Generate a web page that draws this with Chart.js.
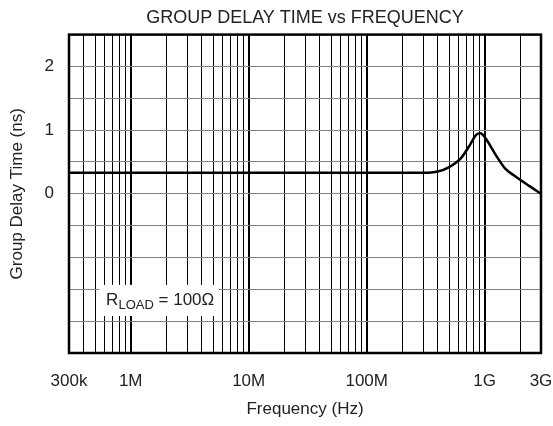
<!DOCTYPE html>
<html>
<head>
<meta charset="utf-8">
<script src="https://cdn.jsdelivr.net/npm/chart.js@4/dist/chart.umd.min.js"></script>
<style>
  html, body { margin: 0; padding: 0; background: #fff; }
  #wrap { width: 553px; height: 426px; }
</style>
</head>
<body>
<div id="wrap"><canvas id="delayChart"></canvas></div>
<script>
// --- Data ---
const freqHz = [3e5, 1e6, 1e7, 1e8, 3e8, 4e8, 5e8, 6.3e8, 7.4e8, 8.5e8, 9.2e8, 1e9, 1.25e9, 1.5e9, 1.8e9, 2.4e9, 3e9];
const delayNs = [0.33, 0.33, 0.33, 0.33, 0.33, 0.35, 0.42, 0.56, 0.75, 0.93, 0.95, 0.89, 0.6, 0.39, 0.28, 0.12, 0.0];

// x grid lines (log decades, 1..9 multiples)
const xGridValues = [
    3e5, 4e5, 5e5, 6e5, 7e5, 8e5, 9e5,
    1e6, 2e6, 3e6, 4e6, 5e6, 6e6, 7e6, 8e6, 9e6,
    1e7, 2e7, 3e7, 4e7, 5e7, 6e7, 7e7, 8e7, 9e7,
    1e8, 2e8, 3e8, 4e8, 5e8, 6e8, 7e8, 8e8, 9e8,
    1e9, 2e9, 3e9
];
const xDecades = [1e6, 1e7, 1e8, 1e9];
const xLabelValues = [3e5, 1e6, 1e7, 1e8, 1e9, 3e9];
const xLabelText = ['300k', '1M', '10M', '100M', '1G', '3G'];

const yGridValues = [-2.5, -2, -1.5, -1, -0.5, 0, 0.5, 1, 1.5, 2, 2.5];
const yLabelValues = [0, 1, 2];

const FONT = 'Liberation Sans, Arial, sans-serif';
const TXT = '#222';
const FS = 17;

// --- Plot frame + R_LOAD note ---
const framePlugin = {
    id: 'frame',
    afterDatasetsDraw(chart) {
        const { ctx, chartArea: a, scales } = chart;
        // note box
        const bx = scales.x.getPixelForValue(5.4e5);
        const bx2 = scales.x.getPixelForValue(5.6e6);
        const by = scales.y.getPixelForValue(-1.43);
        const by2 = scales.y.getPixelForValue(-1.92);
        ctx.save();
        ctx.fillStyle = '#fff';
        ctx.fillRect(bx, by, bx2 - bx, by2 - by);
        ctx.fillStyle = TXT;
        ctx.textBaseline = 'alphabetic';
        ctx.textAlign = 'left';
        const base = by + 20;
        let x = bx + 7;
        ctx.font = FS + 'px ' + FONT;
        ctx.fillText('R', x, base);
        x += ctx.measureText('R').width;
        ctx.font = '13px ' + FONT;
        ctx.fillText('LOAD', x, base + 4);
        x += ctx.measureText('LOAD').width;
        ctx.font = FS + 'px ' + FONT;
        ctx.fillText(' = 100\u03A9', x, base);
        // frame
        ctx.strokeStyle = '#000';
        ctx.lineWidth = 2.5;
        ctx.strokeRect(a.left, a.top, a.right - a.left, a.bottom - a.top);
        ctx.restore();
    }
};

new Chart(document.getElementById('delayChart'), {
    type: 'line',
    data: {
        datasets: [{
            data: freqHz.map((f, i) => ({ x: f, y: delayNs[i] })),
            borderColor: '#000',
            borderWidth: 2.5,
            pointRadius: 0,
            cubicInterpolationMode: 'monotone',
            fill: false
        }]
    },
    options: {
        responsive: true,
        maintainAspectRatio: false,
        animation: false,
        layout: { padding: { left: 0, right: 0, top: 0, bottom: 0 } },
        plugins: {
            legend: { display: false },
            tooltip: { enabled: false },
            title: {
                display: true,
                fullSize: false,
                text: 'GROUP DELAY TIME vs FREQUENCY',
                color: TXT,
                font: { family: FONT, size: 18, weight: 'normal' },
                padding: { top: 7, bottom: 6 }
            }
        },
        scales: {
            x: {
                type: 'logarithmic',
                min: 3e5,
                max: 3e9,
                afterBuildTicks: s => { s.ticks = xGridValues.map(v => ({ value: v })); },
                afterFit: s => { s.height = 73; s.paddingLeft = 0; s.paddingRight = 12; },
                ticks: {
                    autoSkip: false,
                    maxRotation: 0,
                    color: TXT,
                    padding: 18,
                    font: { family: FONT, size: FS },
                    callback: v => {
                        const i = xLabelValues.indexOf(v);
                        return i >= 0 ? xLabelText[i] : '';
                    }
                },
                grid: {
                    color: '#000',
                    lineWidth: c => xDecades.includes(c.tick && c.tick.value) ? 2 : 1,
                    drawTicks: false
                },
                border: { display: false },
                title: {
                    display: true,
                    text: 'Frequency (Hz)',
                    color: TXT,
                    font: { family: FONT, size: FS },
                    padding: { top: 4, bottom: 6 }
                }
            },
            y: {
                min: -2.5,
                max: 2.5,
                afterBuildTicks: s => { s.ticks = yGridValues.map(v => ({ value: v })); },
                afterFit: s => { s.width = 69; },
                ticks: {
                    color: TXT,
                    padding: 15,
                    font: { family: FONT, size: FS },
                    callback: v => yLabelValues.includes(v) ? String(v) : ''
                },
                grid: {
                    color: '#808080',
                    lineWidth: 1,
                    drawTicks: false
                },
                border: { display: false },
                title: {
                    display: true,
                    text: 'Group Delay Time (ns)',
                    color: TXT,
                    font: { family: FONT, size: FS },
                    padding: { top: 7, bottom: 6 }
                }
            }
        }
    },
    plugins: [framePlugin]
});
</script>
</body>
</html>
